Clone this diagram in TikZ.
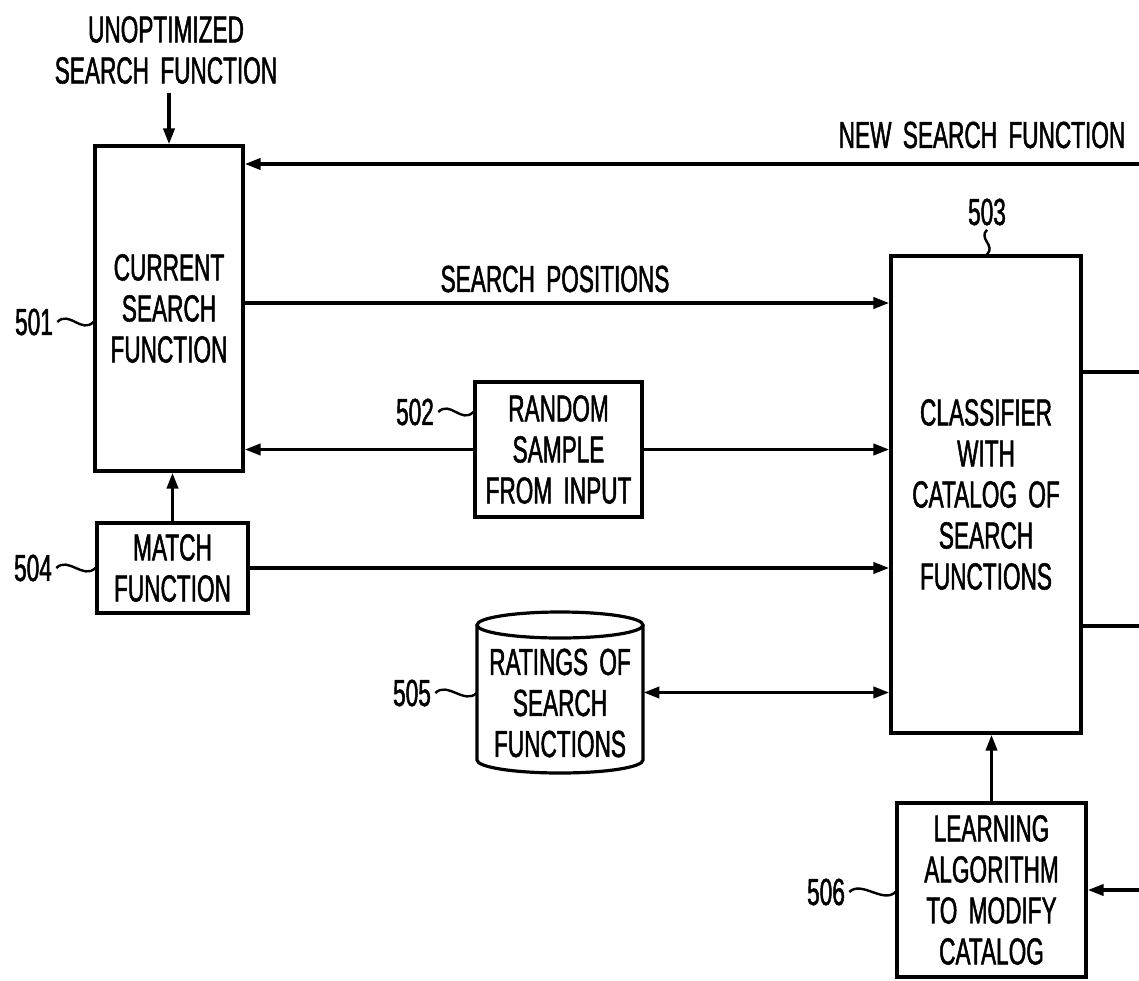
\documentclass[tikz,border=0pt]{standalone}
\usepackage{fontspec}
\setmainfont{Liberation Sans}[FakeStretch=0.6,WordSpace=1.8,FakeBold=1.3]
\usetikzlibrary{arrows.meta}
\begin{document}
\begin{tikzpicture}[x=0.5pt,y=-0.5pt,
  txt/.style={font=\fontsize{18.85}{20.5}\selectfont, align=center, inner sep=0pt},
  blk/.style={txt, draw, line width=1.6pt, rectangle},
  lbl/.style={font=\fontsize{18.85}{20.5}\selectfont, inner sep=2pt},
  arr/.style={line width=1.8pt, -{Triangle[length=8pt,width=5.5pt]}},
  dbl/.style={line width=1.8pt, {Triangle[length=8pt,width=5.5pt]}-{Triangle[length=8pt,width=5.5pt]}},
  plain/.style={line width=1.8pt},
  sq/.style={line width=1.2pt}]
\useasboundingbox (0,0) rectangle (1139,980);

% blocks
\node[blk, minimum width=74pt, minimum height=162.5pt] (b501) at (169,308.5) {CURRENT\\SEARCH\\FUNCTION};
\node[blk, minimum width=95pt, minimum height=238.5pt] (b503) at (986,494.5) {CLASSIFIER\\WITH\\CATALOG OF\\SEARCH\\FUNCTIONS};
\node[blk, minimum width=83.5pt, minimum height=67.5pt] (b502) at (558.5,449.5) {RANDOM\\SAMPLE\\FROM INPUT};
\node[blk, minimum width=75.5pt, minimum height=45pt] (b504) at (172.5,568) {MATCH\\FUNCTION};
\node[blk, minimum width=94.5pt, minimum height=87pt] (b506) at (991.5,890) {LEARNING\\ALGORITHM\\TO MODIFY\\CATALOG};

% cylinder 505
\node[rectangle, minimum width=83pt, minimum height=80.5pt, inner sep=0pt] (b505) at (560,692.5) {};
\draw[line width=1.6pt] (560,625) ellipse [x radius=83, y radius=13];
\draw[line width=1.6pt] (477,625) -- (477,760) arc[start angle=180, end angle=0, x radius=83, y radius=13] -- (643,625);
\node[txt] (t505) at (560,703) {RATINGS OF\\SEARCH\\FUNCTIONS};

% texts
\node[txt] (unopt) at (166,50) {UNOPTIMIZED\\SEARCH FUNCTION};
\node[txt] (nsf) at (982,135) {NEW SEARCH FUNCTION};
\node[txt] (spos) at (555,279) {SEARCH POSITIONS};

% reference labels
\node[lbl] (l501) at (34,322) {501};
\node[lbl] (l502) at (415,412) {502};
\node[lbl] (l503) at (987,212) {503};
\node[lbl] (l504) at (33,568) {504};
\node[lbl] (l505) at (412,693) {505};
\node[lbl] (l506) at (826,892) {506};
\draw[sq] (l501.east) .. controls +(12,-12) and +(-12,12) .. (l501 -| b501.west);
\draw[sq] (l502.east) .. controls +(12,-12) and +(-12,12) .. (l502 -| b502.west);
\draw[sq] (l504.east) .. controls +(12,-12) and +(-12,12) .. (l504 -| b504.west);
\draw[sq] (l505.east) .. controls +(12,-12) and +(-12,12) .. (l505 -| b505.west);
\draw[sq] (l506.east) .. controls +(12,-12) and +(-12,12) .. (l506 -| b506.west);
\draw[sq] (l503.south) .. controls +(-9,9) and +(9,-9) .. (l503 |- b503.north);

% coordinates at the picture edge
\coordinate (ustart) at (169,93);
\coordinate (nsfR) at (1139,164);
\coordinate (spy) at (0,303);
\coordinate (r1) at (1139,372);
\coordinate (r2) at (1139,626);
\coordinate (r3) at (1139,890);

% connectors
\draw[arr] (ustart) -- (b501.north);
\draw[arr] (nsfR) -- (nsfR -| b501.east);
\draw[arr] (b501.east |- spy) -- (b503.west |- spy);
\draw[arr] (b502.west) -- (b502.west -| b501.east);
\draw[arr] (b502.east) -- (b502.east -| b503.west);
\draw[arr] (b504.east) -- (b504.east -| b503.west);
\draw[arr] (b504.north) -- (b504.north |- b501.south);
\draw[dbl] (b505.east) -- (b505.east -| b503.west);
\draw[arr] (b506.north) -- (b506.north |- b503.south);
\draw[plain] (b503.east |- r1) -- (r1);
\draw[plain] (b503.east |- r2) -- (r2);
\draw[arr] (r3) -- (b506.east);
\end{tikzpicture}
\end{document}
